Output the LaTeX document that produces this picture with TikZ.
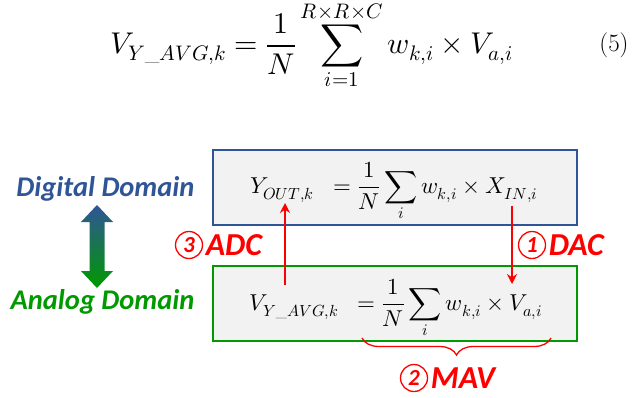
\documentclass[tikz,border=0pt]{standalone}
\usepackage{amsmath}
\usepackage{fontspec}
\usepackage{unicode-math}
\setmathfont{Latin Modern Math}
\newfontfamily\calfont{Carlito}
\usetikzlibrary{arrows.meta,decorations.pathreplacing}
\definecolor{bluedom}{RGB}{47,85,151}
\definecolor{greendom}{RGB}{0,153,0}
\definecolor{redmark}{RGB}{255,0,0}
\definecolor{boxgray}{RGB}{242,242,242}
\tikzset{
  dombox/.style={rectangle, fill=boxgray, line width=1.4pt, minimum width=364pt, minimum height=75pt},
  boxeq/.style={font=\fontsize{23}{27}\selectfont},
  domlabel/.style={font=\calfont\bfseries\itshape\fontsize{28.5}{32}\selectfont},
  steplabel/.style={font=\calfont\bfseries\itshape\fontsize{32}{36}\selectfont, text=redmark, inner sep=2.5pt},
  stepnum/.style={circle, draw=redmark, line width=1.3pt, inner sep=1pt, minimum size=27pt,
    text=redmark, font=\calfont\bfseries\itshape\fontsize{23}{26}\selectfont},
  redarr/.style={draw=redmark, line width=1.3pt, -{Stealth[length=10pt,width=10pt]}}
}
\begin{document}
\begin{tikzpicture}[x=1pt,y=-1pt]
    \useasboundingbox (0,0) rectangle (642,397);

    % equation (5)
    \node[font=\fontsize{30}{34}\selectfont, inner sep=0pt] (eqfive) at (312,45)
      {$\displaystyle V_{Y\_AVG,k}=\frac{1}{N}\sum_{i=1}^{R\times R\times C} w_{k,i}\times V_{a,i}$};
    \node[font=\fontsize{25}{28}\selectfont] (eqnum) at (614,45) {(5)};

    % the two domains
    \node[dombox, draw=bluedom] (digbox) at (395,187.5) {};
    \node[dombox, draw=greendom] (anabox) at (395,303.5) {};
    \node[boxeq] (digeq) at (394,192)
      {$Y_{OUT,k}\;\;=\displaystyle\frac{1}{N}\sum\limits_i w_{k,i}\times X_{IN,i}$};
    \node[boxeq] (anaeq) at (396,309)
      {$V_{Y\_AVG,k}\;\;=\displaystyle\frac{1}{N}\sum\limits_i w_{k,i}\times V_{a,i}$};

    \node[domlabel, text=bluedom, anchor=east] (diglabel) at (198,189) {Digital Domain};
    \node[domlabel, text=greendom, anchor=east] (analabel) at (198,302) {Analog Domain};

    % double arrow between domains
    \shade[top color=bluedom, bottom color=greendom]
      (97,205) -- (113,222) -- (104.5,222) -- (104.5,271) -- (113,271) -- (97,288)
      -- (81,271) -- (89.5,271) -- (89.5,222) -- (81,222) -- cycle;

    % DAC / ADC
    \coordinate (dacA) at (512,206);
    \coordinate (dacB) at (512,284);
    \coordinate (adcA) at (285,285);
    \coordinate (adcB) at (285,203);
    \draw[redarr] (dacA) -- (dacB);
    \draw[redarr] (adcA) -- (adcB);

    \node[stepnum] (numthree) at (189,245) {3};
    \node[steplabel, anchor=west] (adclabel) at (numthree.east) {ADC};
    \node[stepnum] (numone) at (532,245) {1};
    \node[steplabel, anchor=west] (daclabel) at (numone.east) {DAC};

    % MAV
    \coordinate (braceL) at (362,338);
    \coordinate (braceR) at (551,338);
    \draw[redmark, line width=1.3pt, decorate, decoration={brace, mirror, amplitude=17pt}]
      (braceL) -- (braceR);
    \node[stepnum] (numtwo) at (414,378) {2};
    \node[steplabel, anchor=west] (mavlabel) at (numtwo.east) {MAV};
\end{tikzpicture}
\end{document}
